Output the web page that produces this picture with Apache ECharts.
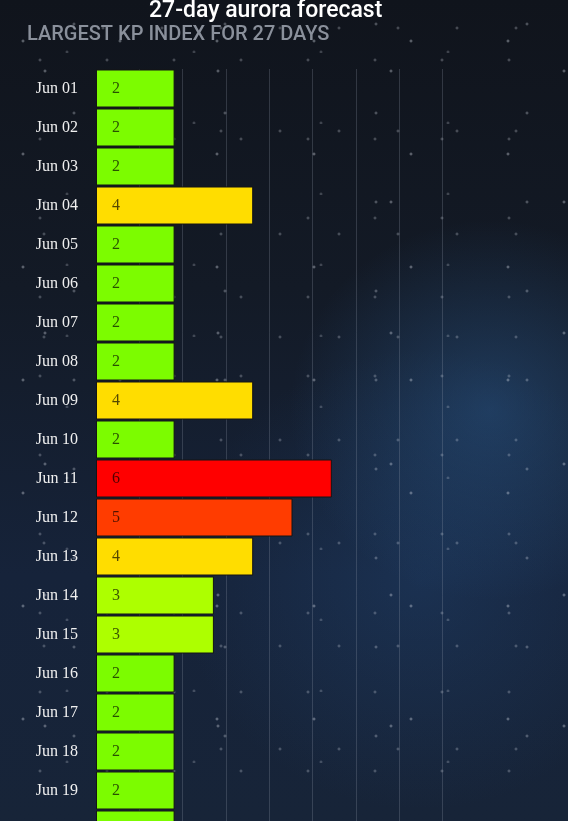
<!DOCTYPE html>
<html>
<head>
<meta charset="utf-8">
<script src="https://cdn.jsdelivr.net/npm/echarts@6/dist/echarts.min.js"></script>
<style>
html, body { margin: 0; padding: 0; width: 568px; height: 821px; overflow: hidden; }
body {
  background:
    radial-gradient(1px 1px at 23px 41px, rgba(220,225,235,0.55), transparent 2px) 0 0 / 97px 113px,
    radial-gradient(1px 1px at 61px 17px, rgba(220,225,235,0.45), transparent 2px) 13px 7px / 151px 89px,
    radial-gradient(1px 1px at 11px 57px, rgba(220,225,235,0.4), transparent 2px) 29px 3px / 67px 79px,
    radial-gradient(1.5px 1.5px at 40px 30px, rgba(230,235,245,0.5), transparent 2px) 5px 41px / 173px 131px,
    radial-gradient(1px 1px at 7px 9px, rgba(220,225,235,0.4), transparent 2px) 37px 19px / 59px 103px,
    radial-gradient(1px 1px at 50px 70px, rgba(220,225,235,0.35), transparent 2px) 17px 53px / 127px 71px,
    radial-gradient(ellipse 200px 190px at 490px 410px, rgba(45,95,150,0.45), transparent 100%),
    radial-gradient(ellipse 240px 230px at 420px 580px, rgba(35,75,125,0.35), transparent 100%),
    linear-gradient(180deg, #10141c 0%, #131a26 35%, #16233a 70%, #172438 100%);
}
#chart { width: 568px; height: 1140px; }
</style>
</head>
<body>
<div id="chart"></div>
<script>
const categories = ['Jun 01','Jun 02','Jun 03','Jun 04','Jun 05','Jun 06','Jun 07','Jun 08','Jun 09','Jun 10',
  'Jun 11','Jun 12','Jun 13','Jun 14','Jun 15','Jun 16','Jun 17','Jun 18','Jun 19','Jun 20',
  'Jun 21','Jun 22','Jun 23','Jun 24','Jun 25','Jun 26','Jun 27'];
const kpValues = [2,2,2,4,2,2,2,2,4,2,6,5,4,3,3,2,2,2,2,2,2,2,3,2,2,2,2];
const kpColors = {1:'#7CFC00',2:'#7CFC00',3:'#ADFF00',4:'#FFDD00',5:'#FF3C00',6:'#FF0000',7:'#E00000',8:'#C00000',9:'#A00000'};
const titleText = '27-day aurora forecast';
const subtitleText = 'LARGEST KP INDEX FOR 27 DAYS';

const chart = echarts.init(document.getElementById('chart'), null, {renderer: 'canvas'});
chart.setOption({
  backgroundColor: 'transparent',
  animation: false,
  title: [
    { text: titleText, left: 144, top: -5,
      textStyle: { color: '#ffffff', fontFamily: 'Roboto', fontSize: 23, fontWeight: 500 } },
    { text: subtitleText, left: 22, top: 20,
      textStyle: { color: '#8a909b', fontFamily: 'Roboto', fontSize: 20, fontWeight: 500 } }
  ],
  grid: [
    { left: 96, top: 69, width: 393, height: 1053, containLabel: false },
    { left: 96, top: 69, width: 390, height: 1053, containLabel: false }
  ],
  xAxis: [
    { type: 'value', gridIndex: 0, min: 0, max: 10, show: true,
      axisLine: {show: false}, axisTick: {show: false}, axisLabel: {show: false}, splitLine: {show: false} },
    { type: 'value', gridIndex: 1, min: 0, max: 9, interval: 1,
      axisLine: {show: false}, axisTick: {show: false}, axisLabel: {show: false},
      splitLine: { show: true, showMinLine: false, showMaxLine: false,
        lineStyle: { color: 'rgba(150,160,175,0.25)', width: 1 } } }
  ],
  yAxis: [
    { type: 'category', gridIndex: 0, data: categories, inverse: true,
      axisLine: {show: false}, axisTick: {show: false}, splitLine: {show: false},
      axisLabel: { color: '#f0f0f0', fontFamily: 'Liberation Serif', fontSize: 16, margin: 18, padding: [0,0,2,0] } },
    { type: 'value', gridIndex: 1, min: 0, max: 1, show: false, splitLine: {show: false} }
  ],
  series: [{
    type: 'bar',
    xAxisIndex: 0, yAxisIndex: 0,
    data: kpValues,
    barWidth: 38,
    itemStyle: {
      color: p => kpColors[p.value],
      borderColor: '#141414',
      borderWidth: 1
    },
    label: {
      show: true, position: 'insideLeft', distance: 16,
      color: 'rgba(0,0,0,0.68)', fontFamily: 'Liberation Serif', fontSize: 16
    }
  }]
});
</script>
</body>
</html>
